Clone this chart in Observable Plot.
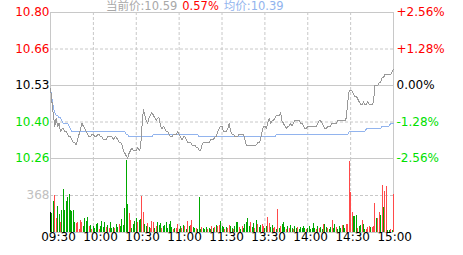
<!DOCTYPE html>
<html><head><meta charset="utf-8">
<script src="https://cdn.jsdelivr.net/npm/d3@7"></script>
<script src="https://cdn.jsdelivr.net/npm/@observablehq/plot@0.6"></script>
<style>
body{margin:0;background:#fff;}
#wrap{position:relative;width:463px;height:255px;overflow:hidden;font-family:"DejaVu Sans",sans-serif;background:#fff;}
#price,#vol{position:absolute;left:0;}
#price{top:0;}
#vol{top:158px;}
#wrap svg{overflow:visible;}
#hdr{position:absolute;left:106px;top:1px;font-size:11.5px;line-height:11px;white-space:nowrap;font-family:"DejaVu Sans","Noto Sans CJK SC",sans-serif;}
#hdr span{display:inline-block;}
</style></head><body>
<div id="wrap"><div id="vol"></div><div id="price"></div><div id="hdr"></div></div>
<script>
const prevClose = 10.53;
const timeLabels = ["09:30","10:00","10:30","11:00","11:30","13:30","14:00","14:30","15:00"];
const timeTickIdx = [0,30,60,90,120,150,180,210,240];
const priceLabels = ["10.80","10.66","10.53","10.40","10.26"];
const pctLabels = ["+2.56%","+1.28%","0.00%","-1.28%","-2.56%"];
const pctSteps = [2,1,0,-1,-2];
const volTick = 368;
const volTickLabel = "368";
const volMax = 736;

const price = [
10.52,10.47,10.42,10.38,10.41,10.38,10.39,10.36,10.37,10.37,
10.36,10.36,10.35,10.34,10.34,10.33,10.32,10.32,10.31,10.33,
10.35,10.37,10.39,10.38,10.37,10.36,10.35,10.34,10.34,10.35,
10.35,10.34,10.34,10.35,10.35,10.34,10.34,10.33,10.33,10.33,
10.34,10.34,10.34,10.34,10.33,10.34,10.34,10.33,10.32,10.32,
10.31,10.29,10.28,10.27,10.26,10.28,10.29,10.30,10.29,10.29,
10.29,10.30,10.29,10.30,10.38,10.44,10.42,10.40,10.39,10.41,
10.42,10.43,10.42,10.41,10.40,10.41,10.41,10.38,10.37,10.38,
10.37,10.36,10.36,10.35,10.34,10.34,10.35,10.35,10.35,10.36,
10.35,10.34,10.33,10.34,10.34,10.33,10.32,10.32,10.32,10.31,
10.31,10.31,10.30,10.30,10.29,10.29,10.31,10.32,10.32,10.32,
10.32,10.32,10.33,10.33,10.33,10.34,10.34,10.36,10.37,10.38,
10.38,10.36,10.36,10.36,10.37,10.39,10.36,10.35,10.35,10.34,
10.34,10.34,10.35,10.35,10.35,10.35,10.33,10.31,10.31,10.31,
10.31,10.31,10.31,10.31,10.31,10.32,10.32,10.33,10.36,10.38,
10.38,10.37,10.39,10.41,10.39,10.40,10.40,10.41,10.42,10.42,
10.42,10.43,10.40,10.39,10.38,10.37,10.38,10.38,10.39,10.38,
10.39,10.40,10.40,10.40,10.40,10.39,10.39,10.38,10.37,10.37,
10.38,10.38,10.38,10.38,10.38,10.38,10.38,10.39,10.40,10.40,
10.39,10.38,10.37,10.37,10.38,10.38,10.38,10.39,10.39,10.39,
10.39,10.40,10.40,10.40,10.40,10.40,10.40,10.41,10.47,10.51,
10.51,10.51,10.50,10.49,10.49,10.48,10.47,10.46,10.46,10.47,
10.46,10.46,10.47,10.46,10.46,10.46,10.47,10.53,10.53,10.53,
10.54,10.54,10.56,10.56,10.57,10.57,10.57,10.57,10.57,10.58,
10.59];

const avgPrice = [
10.52,10.48,10.45,10.43,10.42,10.42,10.41,10.41,10.40,10.39,
10.39,10.39,10.39,10.38,10.37,10.36,10.36,10.36,10.36,10.36,
10.36,10.36,10.36,10.36,10.36,10.36,10.36,10.36,10.36,10.36,
10.36,10.36,10.36,10.36,10.36,10.36,10.36,10.36,10.36,10.36,
10.36,10.36,10.36,10.36,10.36,10.36,10.36,10.36,10.36,10.36,
10.36,10.36,10.36,10.35,10.35,10.34,10.34,10.34,10.34,10.34,
10.34,10.34,10.34,10.34,10.34,10.34,10.34,10.34,10.34,10.34,
10.34,10.34,10.35,10.35,10.35,10.35,10.35,10.35,10.35,10.35,
10.35,10.35,10.35,10.35,10.35,10.35,10.35,10.35,10.35,10.35,
10.35,10.35,10.35,10.35,10.35,10.35,10.35,10.35,10.35,10.35,
10.35,10.35,10.35,10.35,10.34,10.34,10.34,10.34,10.34,10.34,
10.34,10.34,10.34,10.34,10.34,10.34,10.34,10.34,10.34,10.34,
10.34,10.34,10.34,10.34,10.34,10.34,10.34,10.34,10.34,10.34,
10.34,10.34,10.34,10.34,10.34,10.34,10.34,10.34,10.34,10.34,
10.34,10.34,10.34,10.34,10.34,10.34,10.34,10.34,10.34,10.34,
10.34,10.34,10.34,10.34,10.34,10.34,10.34,10.34,10.35,10.35,
10.35,10.35,10.35,10.35,10.35,10.35,10.35,10.35,10.35,10.35,
10.35,10.35,10.35,10.35,10.35,10.35,10.35,10.35,10.35,10.35,
10.35,10.35,10.35,10.35,10.35,10.35,10.35,10.35,10.35,10.35,
10.35,10.35,10.35,10.35,10.35,10.35,10.35,10.35,10.35,10.35,
10.35,10.35,10.35,10.35,10.35,10.35,10.35,10.35,10.35,10.36,
10.36,10.36,10.36,10.36,10.36,10.36,10.36,10.36,10.36,10.36,
10.36,10.37,10.37,10.37,10.37,10.37,10.37,10.37,10.37,10.37,
10.37,10.37,10.38,10.38,10.38,10.38,10.38,10.38,10.39,10.39,
10.39];

const volume = [
203,190,310,370,140,260,175,100,220,425,
220,310,350,380,215,205,215,100,90,95,
30,115,100,60,135,105,145,60,70,30,
55,40,75,85,30,55,105,50,95,50,
70,40,95,40,50,40,75,50,80,60,
125,70,240,716,280,185,115,40,75,105,
135,95,115,125,360,200,80,60,90,50,
40,110,100,40,60,95,70,90,40,60,
70,100,40,80,110,50,30,40,40,80,
30,60,40,70,60,30,110,55,70,115,
50,40,40,30,350,30,50,40,30,50,
30,40,30,60,40,50,70,60,70,105,
55,50,30,50,40,70,60,40,30,55,
95,95,50,30,60,40,75,95,135,60,
100,50,90,40,115,80,50,70,80,60,
40,60,145,90,50,70,40,50,30,230,
40,60,80,100,50,30,60,40,70,40,
30,60,40,50,30,50,40,55,40,30,
40,60,30,40,90,40,30,55,40,50,
30,80,80,50,40,30,50,115,40,80,
50,30,55,40,70,70,40,75,75,706,
397,194,155,155,165,40,60,70,115,80,
30,30,50,55,50,50,60,290,135,135,
195,165,465,250,405,455,20,15,25,20,
375];

// r = up (red), g = down (green), k = unchanged (black)
const volDir = (
"kggrrggrgg"+"ggggggggrr"+"rrrggggrgr"+"ggggrggggr"+"grgggrggrg"+
"gggggrrggg"+"grggrrggrg"+"rrrgrgggrg"+"ggggggrgrr"+"ggrgrgrgrr"+
"ggrgggrggg"+"rggrgrgrrg"+"ggrgrrggrg"+"ggrgrggggg"+"rggrgrggrr"+
"ggrrggrrgr"+"grgggrgrgg"+"rggrgggggr"+"ggggggrgrg"+"grggrggrgg"+
"rgggrggrrr"+"rrgggrggrg"+"grrrgrrrgr"+"rgrgrrggrg"+"r").split("");

const GRID = "#c8c8c8";
const RED = "#ff0000", GREEN = "#00e000";
const FONT = "DejaVu Sans";
const N = price.length - 1;

const levels = pctSteps.map(k => prevClose * (1 + k * 0.0128));
const yDomain = [prevClose * (1 - 0.0256), prevClose * (1 + 0.0256)];
const labelRows = pctSteps.map((k, j) => ({y: levels[j], left: priceLabels[j], right: pctLabels[j], color: k > 0 ? RED : k < 0 ? GREEN : "#000", solid: k % 2 === 0}));
const innerTicks = timeTickIdx.slice(1, -1);
const edgeTicks = [timeTickIdx[0], timeTickIdx[timeTickIdx.length - 1]];

const pricePlot = Plot.plot({
  width: 463, height: 158,
  marginLeft: 50, marginRight: 70, marginTop: 12, marginBottom: 0,
  style: {fontFamily: FONT, fontSize: "12px", background: "transparent", overflow: "visible"},
  x: {domain: [0, N], axis: null},
  y: {domain: yDomain, axis: null},
  marks: [
    Plot.ruleY(labelRows.filter(d => !d.solid), {y: "y", stroke: GRID, strokeDasharray: "3,2"}),
    Plot.ruleX(innerTicks, {x: d => d, stroke: GRID, strokeDasharray: "3,2"}),
    Plot.ruleY(labelRows.filter(d => d.solid), {y: "y", stroke: GRID}),
    Plot.ruleX(edgeTicks, {x: d => d, stroke: GRID}),
    Plot.line(avgPrice, {x: (d, i) => i, y: d => d, stroke: "#92b4ee", strokeWidth: 1, shapeRendering: "crispEdges"}),
    Plot.line(price, {x: (d, i) => i, y: d => d, stroke: "#999999", strokeWidth: 1, shapeRendering: "crispEdges"}),
    ...labelRows.map(d => Plot.text([d], {y: "y", text: "left", frameAnchor: "left", textAnchor: "end", dx: -1, fill: d.color, fontSize: 12})),
    ...labelRows.map(d => Plot.text([d], {y: "y", text: "right", frameAnchor: "right", textAnchor: "start", dx: 3, fill: d.color, fontSize: 12}))
  ]
});
document.getElementById("price").appendChild(pricePlot);

const vols = volume.map((v, i) => ({i, v, dir: volDir[i]}));
const volColors = {r: "#ff4a4a", g: "#00a800", k: "#000000"};
const volPlot = Plot.plot({
  width: 463, height: 97,
  marginLeft: 50, marginRight: 70, marginTop: 0, marginBottom: 23,
  style: {fontFamily: FONT, fontSize: "12px", background: "transparent", overflow: "visible"},
  x: {domain: [0, N], axis: null},
  y: {domain: [0, volMax], axis: null},
  marks: [
    Plot.ruleY([volTick], {y: d => d, stroke: GRID, strokeDasharray: "3,2"}),
    Plot.ruleX(innerTicks, {x: d => d, stroke: GRID, strokeDasharray: "3,2"}),
    Plot.ruleY([0], {y: d => d, stroke: GRID}),
    Plot.ruleX(edgeTicks, {x: d => d, stroke: GRID}),
    ...Object.keys(volColors).map(k => Plot.ruleX(vols, {filter: d => d.dir === k, x: "i", y1: 0, y2: "v", stroke: volColors[k], strokeWidth: 1, shapeRendering: "crispEdges"})),
    Plot.text([volTickLabel], {y: volTick, text: d => d, frameAnchor: "left", textAnchor: "end", dx: -1, fill: "#c0c0c0", fontSize: 12}),
    ...timeLabels.map((t, j) => Plot.text([t], {x: timeTickIdx[j], text: d => d, frameAnchor: "bottom", dy: 8, dx: 8 - 0.85 * j, fill: "#000", fontSize: 12}))
  ]
});
document.getElementById("vol").appendChild(volPlot);

const last = price[N];
const pct = ((last - prevClose) / prevClose * 100).toFixed(2) + "%";
const hdr = document.getElementById("hdr");
hdr.innerHTML =
  `<span style="color:#a8a8a8">当前价:${last.toFixed(2)}</span>` +
  `<span style="color:${RED};margin-left:5px">${pct}</span>` +
  `<span style="color:#92b4ee;margin-left:5px">均价:${avgPrice[N].toFixed(2)}</span>`;
</script>
</body></html>
